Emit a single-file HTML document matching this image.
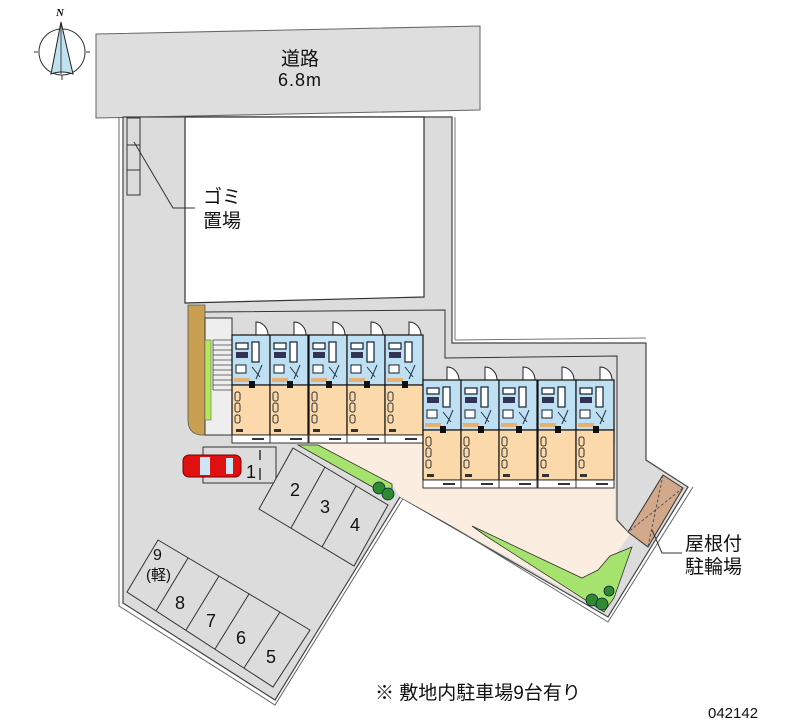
<!DOCTYPE html>
<html><head><meta charset="utf-8"><style>
html,body{margin:0;padding:0;background:#fff;}
svg{display:block}
text{font-family:"Liberation Sans","Noto Sans CJK JP",sans-serif;fill:#111}
</style></head><body>
<svg width="800" height="727" viewBox="0 0 800 727" xmlns="http://www.w3.org/2000/svg">
<defs>
<g id="unit">
  <path d="M24,0 v-13 a12,13 0 0 1 12,13" fill="#fff" stroke="#222" stroke-width="1"/>
  <rect x="0" y="0" width="38" height="50" fill="#bfdff2" stroke="#111" stroke-width="1.2"/>
  <rect x="0" y="50" width="38" height="50" fill="#fbd9aa" stroke="#111" stroke-width="1.2"/>
  <rect x="0" y="100" width="38" height="8" fill="#fff" stroke="#333" stroke-width="1"/>
  <rect x="4" y="8" width="12" height="6" fill="#fff" stroke="#123" stroke-width="1.2"/>
  <rect x="4" y="17" width="12" height="6" fill="#335"/>
  <rect x="20" y="7" width="7" height="20" fill="#fff" stroke="#123" stroke-width="1.2"/>
  <rect x="4" y="30" width="10" height="8" fill="#fff" stroke="#123" stroke-width="1"/>
  <path d="M20,32 l8,10 M30,30 l-6,14" stroke="#234" stroke-width="1" fill="none"/>
  <rect x="2" y="43" width="16" height="4" fill="#e8b070"/>
  <rect x="17" y="46" width="6" height="7" fill="#111"/>
  <rect x="3" y="57" width="5" height="9" rx="2" fill="#fbd9aa" stroke="#333" stroke-width="1"/>
  <rect x="3" y="68" width="5" height="9" rx="2" fill="#fbd9aa" stroke="#333" stroke-width="1"/>
  <rect x="3" y="80" width="5" height="8" rx="2" fill="#fbd9aa" stroke="#333" stroke-width="1"/>
  <rect x="4" y="94" width="7" height="3" fill="#333"/>
  <rect x="20" y="103" width="12" height="2" fill="#333"/>
</g>
</defs>

<circle cx="62" cy="52" r="23" fill="#fff" stroke="#333" stroke-width="1"/>
<path d="M38,52 h-4 M86,52 h4 M62,75 v5" stroke="#333"/>
<path d="M61,22 L51,74 Q62,70 73,74 Z" fill="#bfe1f0" stroke="#222" stroke-width="1"/>
<path d="M61,22 V74" stroke="#222" stroke-width="0.8"/>
<text x="56" y="16" font-size="11" font-weight="bold" font-style="italic" style="font-family:'Liberation Serif',serif">N</text>

<polygon points="96,34 480,26 480,110 96,118" fill="#dedede" stroke="#666" stroke-width="1"/>
<text x="300" y="65" font-size="19" text-anchor="middle">道路</text>
<text x="300" y="86" font-size="18" text-anchor="middle" letter-spacing="1">6.8m</text>

<!-- site gray -->
<polygon points="123,117 452,117 452,343 646,343 646,460 688,487 608,617 400,497 275,700 123,603" fill="#dcdcdc" stroke="#444" stroke-width="1.2"/>
<polyline points="119,117 119,606 275,705 404,497 608,622 693,487" fill="none" stroke="#666" stroke-width="1"/>
<line x1="455" y1="117" x2="455" y2="340" stroke="#777"/>
<line x1="455" y1="340" x2="646" y2="338" stroke="#777"/>
<!-- white lot -->
<polygon points="185,117 424,117 424,297 185,303" fill="#fff" stroke="#333" stroke-width="1.2"/>
<polyline points="205,312 445,310 445,358 617,356 617,520 628,532" fill="none" stroke="#333" stroke-width="1"/>

<polygon points="318,444 615,444 615,520 630,534 612,560 606,612 400,497 392,484" fill="#fbeee0"/>
<polygon points="663,475 683,488 648,547 628,532" fill="#d1a98a" stroke="#333" stroke-width="1"/>
<path d="M663,475 L648,547 M683,488 L628,532" stroke="#555" stroke-dasharray="3,2" fill="none"/>
<polygon points="298,445 318,445 392,484 392,498" fill="#a6e36e" stroke="#333" stroke-width="0.8"/>
<polygon points="472,526 582,578 598,570 610,556 632,547 614,598 604,612 486,536" fill="#a6e36e" stroke="#333" stroke-width="0.8"/>
<circle cx="379" cy="488" r="6" fill="#2f8a2f" stroke="#124" stroke-width="0.8"/>
<circle cx="388" cy="494" r="6" fill="#2f8a2f" stroke="#124" stroke-width="0.8"/>
<circle cx="592" cy="600" r="6" fill="#2f8a2f" stroke="#124" stroke-width="0.8"/>
<circle cx="602" cy="604" r="6" fill="#2f8a2f" stroke="#124" stroke-width="0.8"/>
<circle cx="609" cy="591" r="5" fill="#2f8a2f" stroke="#124" stroke-width="0.8"/>

<rect x="127" y="118" width="13" height="77" fill="#dcdcdc" stroke="#333" stroke-width="1"/>
<path d="M127,145 h13 M127,170 h13" stroke="#333"/>
<polyline points="134,142 173,208 195,208" fill="none" stroke="#333" stroke-width="1"/>
<text x="203" y="203" font-size="19">ゴミ</text>
<text x="203" y="227" font-size="19">置場</text>

<path d="M188,305 H205 V435 H200 Q188,433 188,420 Z" fill="#c9a052" stroke="#555" stroke-width="0.8"/>
<rect x="205" y="318" width="27" height="117" fill="#eee" stroke="#333" stroke-width="1"/>
<rect x="205" y="340" width="6" height="80" fill="#b2ea5a" stroke="#666" stroke-width="0.6"/>
<g stroke="#444" stroke-width="0.8">
<path d="M213,340 h19 M213,345 h19 M213,350 h19 M213,355 h19 M213,360 h19 M213,365 h19 M213,370 h19 M213,375 h19 M213,380 h19 M213,385 h19 M213,390 h19 M213,340 v50"/>
</g>

<use href="#unit" x="232" y="335"/>
<use href="#unit" x="270" y="335"/>
<use href="#unit" x="309" y="335"/>
<use href="#unit" x="347" y="335"/>
<use href="#unit" x="385" y="335"/>
<use href="#unit" x="423" y="380"/>
<use href="#unit" x="461" y="380"/>
<use href="#unit" x="499" y="380"/>
<use href="#unit" x="538" y="380"/>
<use href="#unit" x="576" y="380"/>

<rect x="203" y="447" width="73" height="36" fill="#dcdcdc" stroke="#333" stroke-width="1"/>
<path d="M260,450 v10 M260,468 v12" stroke="#333" stroke-width="1.5"/>
<text x="246" y="478" font-size="18">1</text>
<rect x="183" y="455" width="58" height="22" rx="6" fill="#e01010" stroke="#700" stroke-width="1"/>
<rect x="200" y="457" width="10" height="18" fill="#cde6f5"/>
<rect x="226" y="458" width="7" height="16" fill="#cde6f5"/>

<polygon points="293,448 388,505 354,566 259,509" fill="#dcdcdc" stroke="#333" stroke-width="1"/>
<path d="M325,467 L291,528 M356,486 L322,547" stroke="#333" stroke-width="1"/>
<text x="290" y="496" font-size="18">2</text>
<text x="320" y="513" font-size="18">3</text>
<text x="350" y="531" font-size="18">4</text>

<polygon points="158,540 310,630 273,687 127,592" fill="#dcdcdc" stroke="#333" stroke-width="1"/>
<path d="M188,558 L156,611 M219,576 L186,630 M249,594 L215,649 M280,612 L244,668" stroke="#333" stroke-width="1"/>
<text x="153" y="560" font-size="16">9</text>
<text x="146" y="580" font-size="15">(軽)</text>
<text x="175" y="609" font-size="18">8</text>
<text x="206" y="627" font-size="18">7</text>
<text x="236" y="644" font-size="18">6</text>
<text x="266" y="663" font-size="18">5</text>

<polyline points="652,530 662,553 682,553" fill="none" stroke="#333" stroke-width="1"/>
<text x="685" y="550" font-size="19">屋根付</text>
<text x="685" y="573" font-size="19">駐輪場</text>

<text x="375" y="699" font-size="19">※ 敷地内駐車場9台有り</text>
<text x="708" y="718" font-size="15">042142</text>
</svg>
</body></html>
